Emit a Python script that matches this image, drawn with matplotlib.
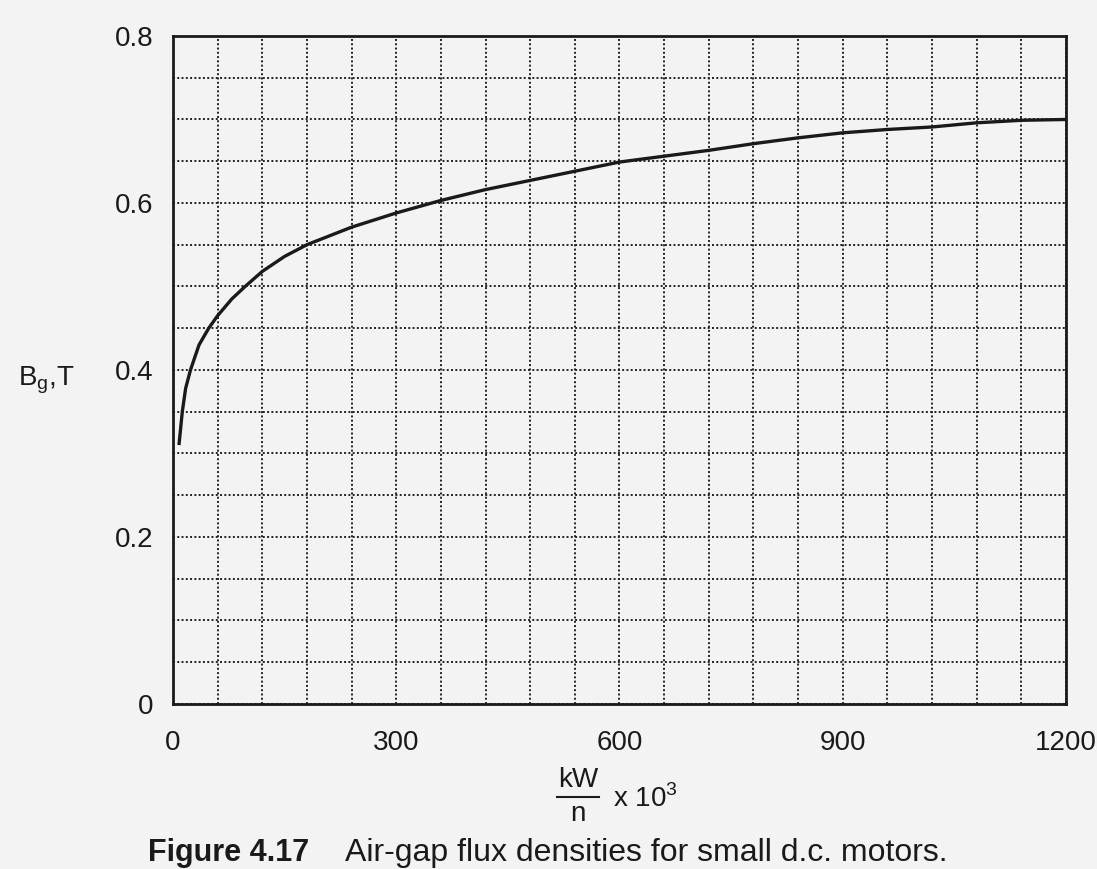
import matplotlib.pyplot as plt
from matplotlib.lines import Line2D
from matplotlib.ticker import MultipleLocator

plt.rcParams['font.family'] = ['Liberation Sans', 'DejaVu Sans']

# Kurve
kw_n = [8, 12.5, 17, 23.5, 35, 48, 60, 79, 97, 120, 150, 180, 240, 300,
        360, 420, 480, 540, 600, 660, 720, 780, 840, 900, 960, 1020,
        1080, 1140, 1200]
b_g = [0.31, 0.35, 0.378, 0.40, 0.430, 0.45, 0.465, 0.485, 0.50, 0.518,
       0.536, 0.55, 0.571, 0.588, 0.603, 0.616, 0.627, 0.638, 0.649,
       0.656, 0.663, 0.671, 0.678, 0.684, 0.688, 0.691, 0.696, 0.699, 0.70]

x_ticks = [0, 300, 600, 900, 1200]
y_ticks = [0, 0.2, 0.4, 0.6, 0.8]
y_labels = ['0', '0.2', '0.4', '0.6', '0.8']

fig = plt.figure(figsize=(10.97, 8.69), dpi=100, facecolor='#f3f3f3')
ax = fig.add_axes([0.1577, 0.19, 0.814, 0.7686])
ax.set_facecolor('#f3f3f3')

ax.plot(kw_n, b_g, color='#1a1a1a', lw=2.4, solid_capstyle='butt')

ax.set_xlim(0, 1200)
ax.set_ylim(0, 0.8)
ax.set_xticks(x_ticks)
ax.set_yticks(y_ticks)
ax.set_yticklabels(y_labels)
ax.xaxis.set_minor_locator(MultipleLocator(60))
ax.yaxis.set_minor_locator(MultipleLocator(0.05))
ax.grid(True, which='both', color='#222222', lw=1.4, ls=(0, (1, 1.2)))
ax.set_axisbelow(True)
ax.tick_params(which='both', length=0, labelsize=20, colors='#1a1a1a')
ax.tick_params(axis='x', pad=19)
ax.tick_params(axis='y', pad=14)
for s in ax.spines.values():
    s.set_linewidth(2)
    s.set_color('#1a1a1a')

# Achsenbeschriftungen
fig.text(18 / 1097, 1 - 380 / 869, r'B$_\mathregular{g}$,T', fontsize=20,
         va='center', ha='left', color='#1a1a1a')
fig.text(578 / 1097, 1 - 780 / 869, 'kW', fontsize=20, ha='center', va='center', color='#1a1a1a')
fig.text(578 / 1097, 1 - 814 / 869, 'n', fontsize=20, ha='center', va='center', color='#1a1a1a')
fig.add_artist(Line2D([557 / 1097, 599 / 1097], [1 - 797 / 869, 1 - 797 / 869],
                      color='#1a1a1a', lw=1.5, transform=fig.transFigure))
fig.text(613 / 1097, 1 - 799 / 869, r'x 10$^\mathregular{3}$', fontsize=20,
         ha='left', va='center', color='#1a1a1a')

# Bildunterschrift
fig.text(148 / 1097, 1 - 853 / 869, 'Figure 4.17', fontsize=22, fontweight='bold',
         ha='left', va='center', color='#1a1a1a')
fig.text(345 / 1097, 1 - 853 / 869, 'Air-gap flux densities for small d.c. motors.',
         fontsize=23, ha='left', va='center', color='#1a1a1a')

fig.savefig('out.png', dpi=100, facecolor=fig.get_facecolor())
